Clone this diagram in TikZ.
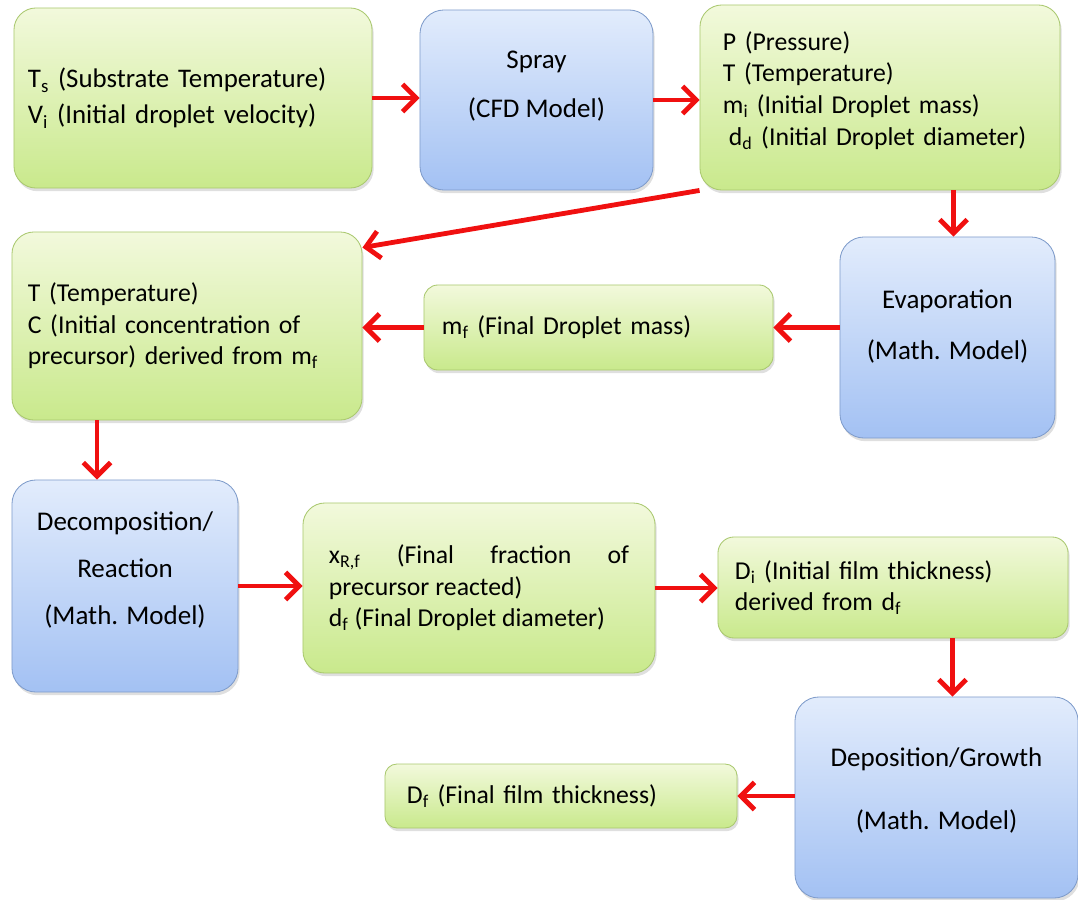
\documentclass[tikz,border=0pt]{standalone}
\usepackage{fontspec}
\setmainfont{Carlito}
\usetikzlibrary{arrows.meta, shadows}
\definecolor{greentop}{HTML}{F2F9DC}
\definecolor{greenbottom}{HTML}{C9E98C}
\definecolor{greenline}{HTML}{A9C86E}
\definecolor{bluetop}{HTML}{E2ECFC}
\definecolor{bluebottom}{HTML}{A3C1F3}
\definecolor{blueline}{HTML}{7F9CCB}
\definecolor{arrowred}{HTML}{F01010}
% invisible depth on the last line, lifts the text in its box
\newcommand{\liftby}[1]{\rule[-#1]{0pt}{0pt}}

\begin{document}
\begin{tikzpicture}[
        x=0.025cm, y=-0.025cm,
        font=\fontsize{18.3}{22.5}\selectfont,
        flow/.style={-{Straight Barb[length=3.4mm,width=6.8mm]}, line width=1.2mm, draw=arrowred},
        gbox/.style={rectangle, rounded corners=0.55cm, draw=greenline, line width=0.6pt,
            top color=greentop, bottom color=greenbottom, inner sep=0pt, align=left,
            drop shadow={shadow xshift=0.04cm, shadow yshift=-0.08cm, opacity=0.25}},
        bbox/.style={rectangle, rounded corners=0.6cm, draw=blueline, line width=0.6pt,
            top color=bluetop, bottom color=bluebottom, inner sep=0pt, align=center,
            font=\fontsize{19.2}{23.5}\selectfont,
            drop shadow={shadow xshift=0.04cm, shadow yshift=-0.08cm, opacity=0.25}}
    ]
        \useasboundingbox (0,0) rectangle (1078,900);

        % Top row
        \node[gbox, minimum width=8.95cm, minimum height=4.5cm, text width=8.25cm,
            font=\fontsize{19.1}{25.6}\selectfont] (input) at (193,98)
            {T\textsubscript{s} (Substrate Temperature)\\V\textsubscript{i} (Initial droplet velocity)};
        \node[bbox, minimum width=5.825cm, minimum height=4.5cm] (spray) at (536.5,100)
            {Spray\\[0.4cm](CFD Model)\liftby{0.8cm}};
        \node[gbox, minimum width=9cm, minimum height=4.625cm, text width=7.85cm] (params) at (880,97.5)
            {P (Pressure)\\T (Temperature)\\m\textsubscript{i} (Initial Droplet mass)\\
             \hspace*{0.15cm}d\textsubscript{d} (Initial Droplet diameter)\liftby{0.46cm}};

        % Second row
        \node[gbox, minimum width=8.75cm, minimum height=4.7cm, text width=7.95cm] (conc) at (187,326)
            {T (Temperature)\\C (Initial concentration of\\precursor) derived from m\textsubscript{f}};
        \node[gbox, rounded corners=0.35cm, minimum width=8.725cm, minimum height=2.125cm,
            text width=7.825cm] (mf) at (598.5,327.5)
            {m\textsubscript{f} (Final Droplet mass)};
        \node[bbox, minimum width=5.375cm, minimum height=5.025cm] (evap) at (947.5,337.5)
            {Evaporation\\[0.45cm](Math. Model)\liftby{0.66cm}};

        % Third row
        \node[bbox, minimum width=5.65cm, minimum height=5.3cm] (decomp) at (125,586)
            {Decomposition/\\[0.35cm]Reaction\\[0.35cm](Math. Model)\liftby{0.9cm}};
        \node[gbox, minimum width=8.8cm, minimum height=4.25cm, text width=7.5cm, align=justify] (xrf) at (479,588)
            {x\textsubscript{R,f} (Final fraction of\linebreak precursor reacted)\\d\textsubscript{f} (Final Droplet diameter)};
        \node[gbox, rounded corners=0.4cm, minimum width=8.75cm, minimum height=2.525cm,
            text width=7.9cm] (di) at (893,587.5)
            {D\textsubscript{i} (Initial film thickness)\\derived from d\textsubscript{f}};

        % Bottom row
        \node[bbox, minimum width=7.075cm, minimum height=5.025cm] (depo) at (936.5,797.5)
            {Deposition/Growth\\[0.75cm](Math. Model)\liftby{0.46cm}};
        \node[gbox, rounded corners=0.3cm, minimum width=8.8cm, minimum height=1.6cm,
            text width=7.7cm] (df) at (561,796)
            {D\textsubscript{f} (Final film thickness)};

        % Arrows
        \draw[flow] (input.east) -- (spray.west |- input.east);
        \draw[flow] (spray.east) -- (params.west |- spray.east);
        \draw[flow] (params.south west) -- ([yshift=-0.4cm]conc.north east);
        \draw[flow] ([xshift=0.15cm]evap.north |- params.south) -- ([xshift=0.15cm]evap.north);
        \draw[flow] (mf.east -| evap.west) -- (mf.east);
        \draw[flow] (mf.west) -- (mf.west -| conc.east);
        \draw[flow] ([xshift=-2.25cm]conc.south) -- ([xshift=-2.25cm]conc.south |- decomp.north);
        \draw[flow] (decomp.east) -- (xrf.west |- decomp.east);
        \draw[flow] (xrf.east) -- (di.west |- xrf.east);
        \draw[flow] ([xshift=0.4cm]depo.north |- di.south) -- ([xshift=0.4cm]depo.north);
        \draw[flow] (depo.west |- df.east) -- (df.east);

    \end{tikzpicture}
\end{document}
